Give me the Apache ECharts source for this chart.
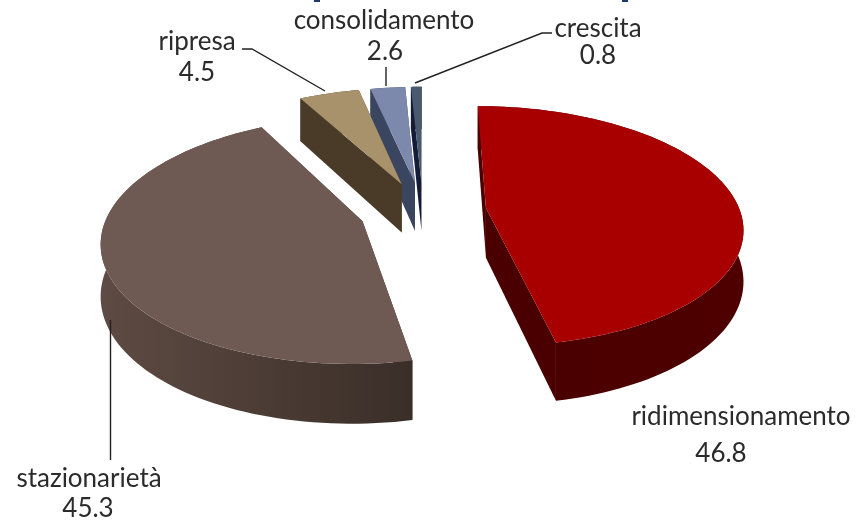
<!DOCTYPE html>
<html>
<head>
<meta charset="utf-8">
<style>html,body{margin:0;padding:0;background:#fff}#chart{width:866px;height:521px}</style>
<script src="https://cdn.jsdelivr.net/npm/echarts@6/dist/echarts.min.js"></script>
</head>
<body>
<div id="chart"></div>
<script>
// Slices in clockwise order, starting from the back of the pie
const categories = ['ridimensionamento', 'stazionarietà', 'ripresa', 'consolidamento', 'crescita'];
const shares = [46.8, 45.3, 4.5, 2.6, 0.8];

// Appearance per slice: top face, side gradient (left to right), paint order
const topColors = ['#a80000', '#6e5a52', '#a8926c', '#7c88ac', '#4a5a6e'];
const sideColors = [['#4a0000', '#4e0000'], ['#5e4b43', '#3a2e28'], ['#4a3a28', '#4a3a28'], ['#3a4660', '#3a4660'], ['#141c38', '#141c38']];
const paintRank = [5, 4, 3, 2, 1];

// Label placement: text centre for name and value, then leader line vertices
const nameAt = [[741, 417], [89, 479], [197, 42], [384, 21], [598, 29]];
const valueAt = [[721, 454], [88, 509], [197, 73], [385, 52], [598, 56]];
const leaders = [
  null,
  [[110.5, 320], [110.5, 460]],
  [[242, 49], [252, 49], [325, 91]],
  [[386, 67], [386, 86]],
  [[552, 33], [542, 33], [415, 83]]
];

// Projection of the pie plane onto the screen
const cx = 423, cy = 211, radiusX = 254, radiusY = 118, perspective = 0.15, thickness = 50, explode = 0.25;
const project = (u, v) => {
  const w = 1 + perspective * v;
  return [cx + radiusX * u / w, cy - radiusY * v / w, thickness / w];
};

const total = shares.reduce((a, b) => a + b, 0);
const starts = [];
shares.reduce((acc, s, i) => { starts[i] = acc; return acc + s; }, 0);

// Apex followed by the points along the outer arc
function sliceOutline(startShare, share) {
  const a0 = startShare / total * 2 * Math.PI, a1 = (startShare + share) / total * 2 * Math.PI;
  const mid = (a0 + a1) / 2;
  const ou = explode * Math.sin(mid), ov = explode * Math.cos(mid);
  const pts = [project(ou, ov)];
  const steps = Math.max(4, Math.ceil((a1 - a0) / 0.03));
  for (let k = 0; k <= steps; k++) {
    const a = a0 + (a1 - a0) * k / steps;
    pts.push(project(ou + Math.sin(a), ov + Math.cos(a)));
  }
  return pts;
}

const wall = (p, q) => [[p[0], p[1]], [q[0], q[1]], [q[0], q[1] + q[2]], [p[0], p[1] + p[2]]];

function renderSlice(params, api) {
  const i = params.dataIndex;
  const outline = sliceOutline(starts[i], api.value(0));
  const arc = outline.slice(1);
  const xs = outline.map(p => p[0]);
  const fill = {
    type: 'linear', global: true,
    x: Math.min(...xs), y: 0, x2: Math.max(...xs), y2: 0,
    colorStops: [{ offset: 0, color: sideColors[i][0] }, { offset: 1, color: sideColors[i][1] }]
  };
  const rank = paintRank[i] * 10;
  const rim = arc.map(p => [p[0], p[1]]).concat(arc.slice().reverse().map(p => [p[0], p[1] + p[2]]));
  const children = [
    { type: 'polygon', z2: rank, shape: { points: wall(outline[0], arc[0]) }, style: { fill: fill } },
    { type: 'polygon', z2: rank, shape: { points: wall(outline[0], arc[arc.length - 1]) }, style: { fill: fill } },
    { type: 'polygon', z2: rank, shape: { points: rim }, style: { fill: fill } },
    { type: 'polygon', z2: rank + 1, shape: { points: outline.map(p => [p[0], p[1]]) }, style: { fill: topColors[i] } }
  ];
  if (leaders[i]) {
    children.push({
      type: 'polyline', z2: 200,
      shape: { points: leaders[i] },
      style: { fill: 'none', stroke: '#222222', lineWidth: 1.4 }
    });
  }
  const font = '26px Lato, sans-serif';
  children.push({
    type: 'text', z2: 210,
    style: { text: categories[i], x: nameAt[i][0], y: nameAt[i][1], align: 'center', verticalAlign: 'middle', font: font, fill: '#2b2b2b' }
  });
  children.push({
    type: 'text', z2: 210,
    style: { text: api.value(0).toFixed(1), x: valueAt[i][0], y: valueAt[i][1], align: 'center', verticalAlign: 'middle', font: font, fill: '#2b2b2b' }
  });
  return { type: 'group', children: children };
}

const chart = echarts.init(document.getElementById('chart'), null, { renderer: 'canvas' });
chart.setOption({
  animation: false,
  backgroundColor: '#ffffff',
  // the clipped stems of the heading that runs off the top edge
  graphic: [
    { type: 'rect', shape: { x: 314, y: 0, width: 6, height: 2 }, style: { fill: '#1f3a6e' } },
    { type: 'rect', shape: { x: 622, y: 0, width: 6, height: 2 }, style: { fill: '#1f3a6e' } }
  ],
  series: [{
    type: 'custom',
    coordinateSystem: 'none',
    renderItem: renderSlice,
    data: shares.map((s, i) => ({ name: categories[i], value: [s] }))
  }]
});
</script>
</body>
</html>
